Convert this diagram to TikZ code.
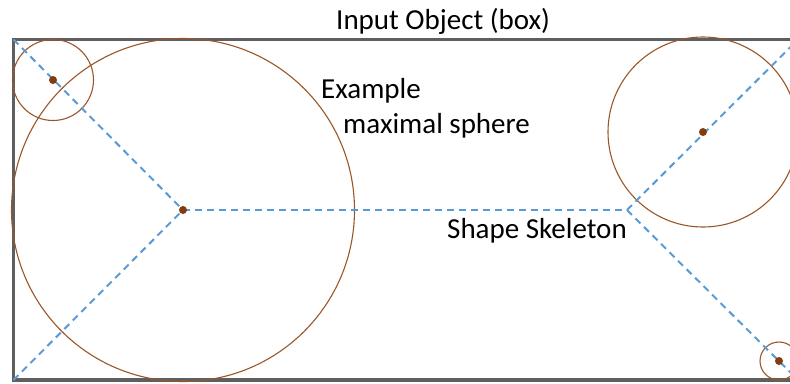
\documentclass[tikz,border=0pt]{standalone}
\usepackage{fontspec}
\setmainfont{Carlito}
\definecolor{boxgrey}{HTML}{5F5F5F}
\definecolor{sphbrown}{HTML}{9A5626}
\definecolor{dotbrown}{HTML}{843C0C}
\definecolor{skelblue}{HTML}{5B9BD5}
\begin{document}
\begin{tikzpicture}[x=1pt,y=-1pt,
  objbox/.style={draw=boxgrey, line width=3.6pt},
  sphere/.style={draw=sphbrown, line width=1.1pt},
  centre/.style={circle, fill=dotbrown, inner sep=0pt, minimum size=8pt},
  skel/.style={draw=skelblue, line width=2pt, dash pattern=on 7pt off 5pt},
  lbl/.style={font=\fontsize{29}{33}\selectfont, inner sep=0pt, anchor=base west}]
\useasboundingbox (0,0) rectangle (790,383);
\clip (0,0) rectangle (790,383);
% box outline
\draw[objbox] (13.5,39.5) rectangle (798,380);
% corners of the box and skeleton points
\coordinate (tl) at (13.5,39.5);
\coordinate (bl) at (13.5,380);
\coordinate (tr) at (798,39.5);
\coordinate (br) at (798,380);
\coordinate (j) at (627,210);
% maximal spheres
\draw[sphere] (53,80) circle (40.5);
\draw[sphere] (183,210) circle (171.5);
\draw[sphere] (703,132) circle (95);
\draw[sphere] (779,361) circle (19);
% medial axis
\draw[skel] (tl) -- (183,210) coordinate (m);
\draw[skel] (bl) -- (m);
\draw[skel] (m) -- (j);
\draw[skel] (j) -- (tr);
\draw[skel] (j) -- (br);
% sphere centres
\node[centre] (c1) at (53,80) {};
\node[centre] (c2) at (183,210) {};
\node[centre] (c3) at (703,132) {};
\node[centre] (c4) at (779,361) {};
% labels
\node[lbl] (title) at (336,29) {Input Object (box)};
\node[lbl] (ex1) at (321,98) {Example};
\node[lbl] (ex2) at (343,133) {maximal sphere};
\node[lbl] (sk) at (447,238) {Shape Skeleton};
\end{tikzpicture}
\end{document}
